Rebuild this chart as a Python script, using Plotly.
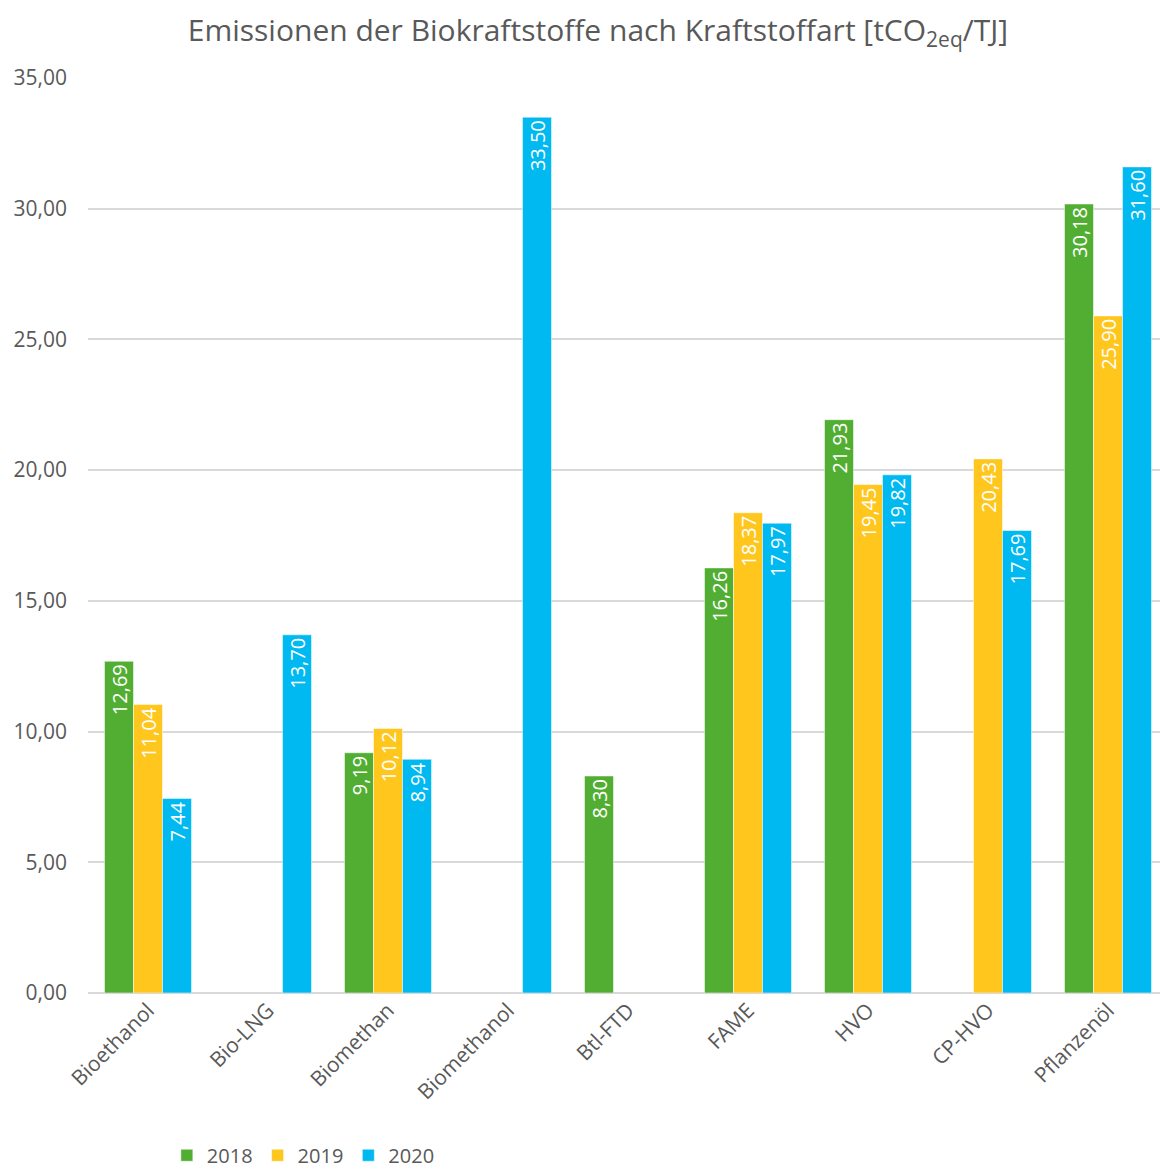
import plotly.graph_objects as go

categories = ["Bioethanol", "Bio-LNG", "Biomethan", "Biomethanol", "Btl-FTD",
              "FAME", "HVO", "CP-HVO", "Pflanzenöl"]
v2018 = [12.69, None, 9.19, None, 8.30, 16.26, 21.93, None, 30.18]
v2019 = [11.04, None, 10.12, None, None, 18.37, 19.45, 20.43, 25.90]
v2020 = [7.44, 13.70, 8.94, 33.50, None, 17.97, 19.82, 17.69, 31.60]
series = [("2018", v2018, "#52AE32"), ("2019", v2019, "#FFC61E"), ("2020", v2020, "#00B9F0")]
yticks = [0, 5, 10, 15, 20, 25, 30, 35]

FONT = "Open Sans"
GREY = "#595959"

fig = go.Figure()
for name, vals, col in series:
    fig.add_trace(go.Bar(
        x=categories, y=vals, name=name,
        marker=dict(color=col, line=dict(color="rgba(255,255,255,0.5)", width=1)),
        texttemplate="%{y:.2f}", textposition="inside", insidetextanchor="end",
        textangle=-90, constraintext="none",
        textfont=dict(color="white", size=20, family=FONT),
        cliponaxis=False,
    ))

# page body adds an 8px offset; margins are reduced accordingly
fig.update_layout(
    width=1160, height=1175,
    separators=",.",
    barmode="group", bargap=0.275, bargroupgap=0,
    plot_bgcolor="white", paper_bgcolor="white",
    margin=dict(l=80, r=0, t=70, b=190),
    title=dict(text="Emissionen der Biokraftstoffe nach Kraftstoffart [tCO<sub>2eq</sub>/TJ]",
               x=0.5086, xanchor="center", y=1 - 22 / 1175, yanchor="middle",
               font=dict(family=FONT, size=30, color=GREY)),
    font=dict(family=FONT, color=GREY),
    showlegend=True,
    legend=dict(orientation="h", x=0.073, xanchor="left", y=-0.156, yanchor="top",
                font=dict(size=20, color=GREY), traceorder="normal",
                itemwidth=30, tracegroupgap=0),
)
fig.update_yaxes(range=[0, 35], tickvals=yticks, tickformat=".2f",
                 showgrid=True, gridcolor="#D9D9D9", gridwidth=1.5,
                 zeroline=True, zerolinecolor="#D9D9D9", zerolinewidth=1.5,
                 showline=False, ticks="", ticklabelstandoff=20, automargin=False,
                 tickfont=dict(size=21, color=GREY, family=FONT))
fig.update_xaxes(tickangle=-45, showline=False, ticks="", showgrid=False, automargin=False,
                 tickfont=dict(size=21, color=GREY, family=FONT))

fig.write_html("out.html")
